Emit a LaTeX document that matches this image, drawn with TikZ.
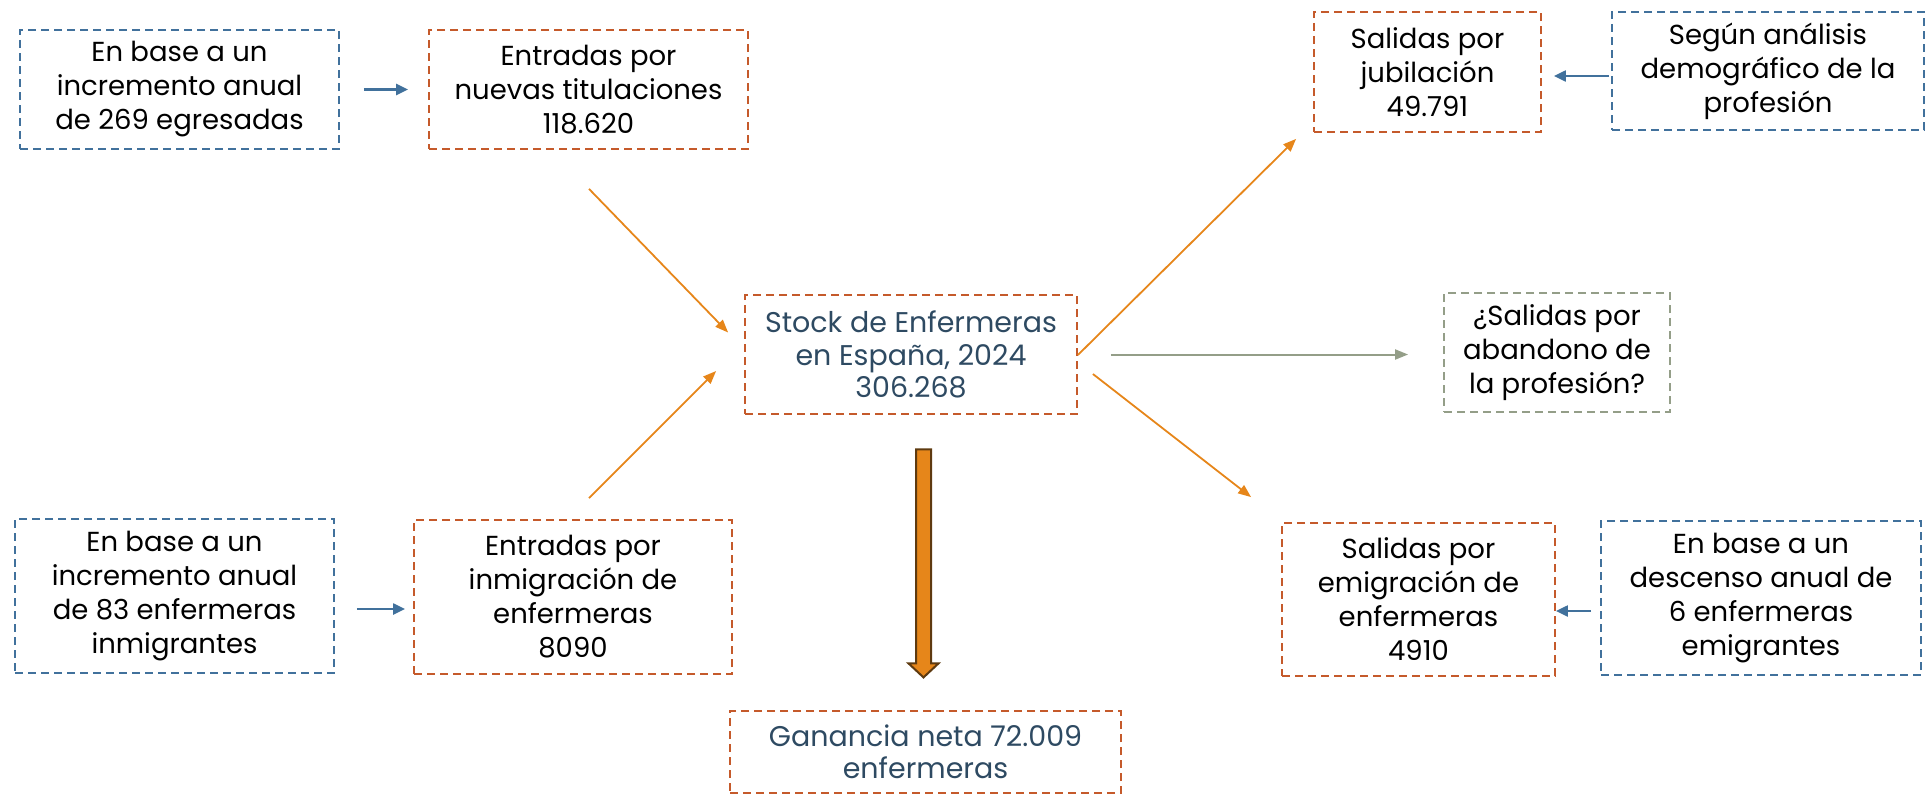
\documentclass[tikz,border=0pt]{standalone}
\usepackage{fontspec}
\setmainfont{Poppins}
\usetikzlibrary{arrows.meta,calc}
\definecolor{rust}{HTML}{C55A2B}
\definecolor{steel}{HTML}{41719C}
\definecolor{sage}{HTML}{949E88}
\definecolor{amber}{HTML}{E6861A}
\definecolor{navy}{HTML}{2E4A62}
\definecolor{brownish}{HTML}{5E3A10}
\begin{document}
\begin{tikzpicture}[x=1pt,y=-1pt,
  box/.style={dash pattern=on 8pt off 5pt, line width=1.8pt, align=center, inner sep=0pt,
    font=\fontsize{27.5}{34}\selectfont},
  bluebox/.style={box, draw=steel},
  rustbox/.style={box, draw=rust},
  sagebox/.style={box, draw=sage},
  darktext/.style={text=navy, font=\fontsize{28.5}{32.5}\selectfont},
  oarrow/.style={draw=amber, line width=1.8pt, -{Triangle[length=13pt,width=10pt]}},
  barrow/.style={draw=steel, line width=2.2pt, -{Triangle[length=12pt,width=11pt]}},
  garrow/.style={draw=sage, line width=2pt, -{Triangle[length=13pt,width=10pt]}},
]
\useasboundingbox (0,0) rectangle (1928,795);

\node[bluebox, minimum width=319pt, minimum height=119pt] (b1) at (179.5,89.5)
  {En base a un\\incremento anual\\de 269 egresadas};
\node[rustbox, minimum width=319pt, minimum height=119pt] (b2) at (588.5,89.5)
  {Entradas por\\nuevas titulaciones\\118.620};
\node[rustbox, minimum width=227pt, minimum height=120pt] (b3) at (1427.5,72)
  {Salidas por\\jubilación\\49.791};
\node[bluebox, minimum width=312pt, minimum height=118pt] (b4) at (1768,71)
  {Según análisis\\demográfico de la\\profesión};
\node[rustbox, darktext, minimum width=332pt, minimum height=119pt] (stock) at (911,354.5)
  {Stock de Enfermeras\\en España, 2024\\306.268};
\node[sagebox, minimum width=226pt, minimum height=119pt] (aband) at (1557,352.5)
  {¿Salidas por\\abandono de\\la profesión?};
\node[rustbox, minimum width=273pt, minimum height=153pt] (emig) at (1418.5,599.5)
  {Salidas por\\emigración de\\enfermeras\\4910};
\node[bluebox, minimum width=320pt, minimum height=154pt] (desc) at (1761,598)
  {En base a un\\descenso anual de\\6 enfermeras\\emigrantes};
\node[bluebox, minimum width=319pt, minimum height=154pt] (bl) at (174.5,596)
  {En base a un\\incremento anual\\de 83 enfermeras\\inmigrantes};
\node[rustbox, minimum width=318pt, minimum height=154pt] (inmig) at (573,597)
  {Entradas por\\inmigración de\\enfermeras\\8090};
\node[rustbox, darktext, minimum width=391pt, minimum height=82pt] (gan) at (925.5,752)
  {Ganancia neta 72.009\\enfermeras};

% blue connectors
\draw[barrow, shorten <=24pt, shorten >=20pt] (b1.east) -- (b2.west);
\draw[barrow, shorten <=22pt, shorten >=8pt] (bl.east |- 0,609) -- (inmig.west |- 0,609);
\draw[barrow, shorten <=2pt, shorten >=12pt] (b4.west |- 0,76) -- (b3.east |- 0,76);
\draw[barrow, shorten <=9pt, shorten >=0pt] (desc.west |- 0,611) -- (emig.east |- 0,611);

% orange connectors
\coordinate (p1s) at ($(b2.south)+(0.5,39)$);
\coordinate (p1e) at ($(stock.west)+(-16,-22)$);
\draw[oarrow] (p1s) -- (p1e);
\coordinate (p2s) at ($(inmig.north)+(16,-21)$);
\coordinate (p2e) at ($(stock.west)+(-28,16.5)$);
\draw[oarrow] (p2s) -- (p2e);
\coordinate (p3s) at ($(stock.east)+(0,0.5)$);
\coordinate (p3e) at ($(b3.south west)+(-17,6)$);
\draw[oarrow] (p3s) -- (p3e);
\coordinate (p4s) at ($(stock.east)+(15,19.5)$);
\coordinate (p4e) at ($(emig.north west)+(-30,-25)$);
\draw[oarrow] (p4s) -- (p4e);

% sage connector
\draw[garrow, shorten <=33pt, shorten >=35pt] (stock.east) -- (aband.west |- stock.east);

% block arrow
\coordinate (bt) at ($(stock.south)+(12.5,34.5)$);
\draw[fill=amber, draw=brownish, line width=2pt, line join=miter]
  ($(bt)+(-7.5,0)$) -- ($(bt)+(7.5,0)$) -- ($(bt)+(7.5,214)$) -- ($(bt)+(15,214)$)
  -- ($(bt)+(0,228)$) -- ($(bt)+(-15,214)$) -- ($(bt)+(-7.5,214)$) -- cycle;
\end{tikzpicture}
\end{document}
